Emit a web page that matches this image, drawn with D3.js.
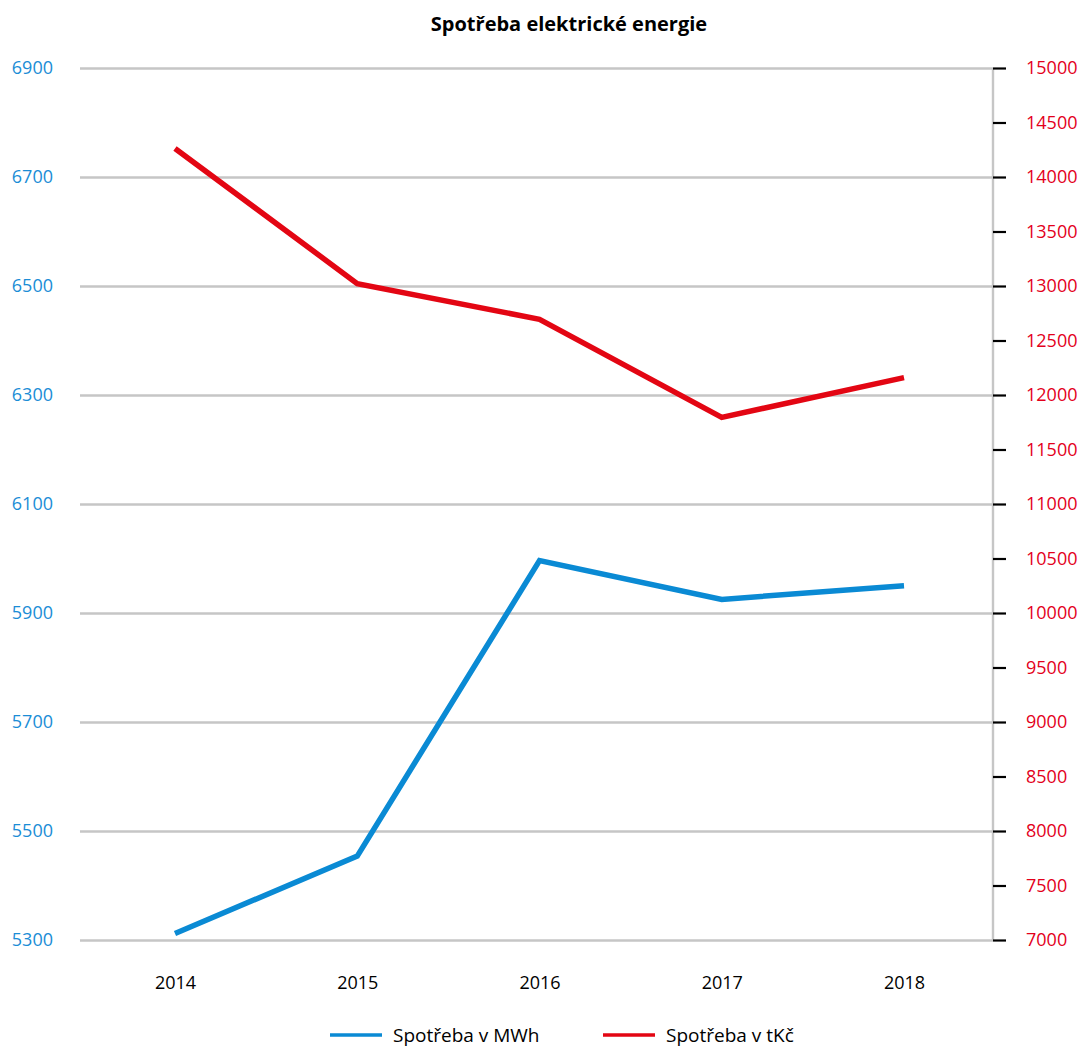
<!DOCTYPE html>
<html><head><meta charset="utf-8">
<script src="https://cdn.jsdelivr.net/npm/d3@7"></script>
<style>
html,body{margin:0;padding:0;background:#fff;}
text{font-family:"Open Sans",sans-serif;}
</style></head>
<body><svg id="c" width="1083" height="1046"></svg>
<script>
const title = "Spotřeba elektrické energie";
const years = ["2014","2015","2016","2017","2018"];
const mwh = [5312, 5454, 5996, 5925, 5950];
const tkc = [14262, 13022, 12694, 11795, 12159];
const leftTicks = [5300,5500,5700,5900,6100,6300,6500,6700,6900];
const rightTicks = [7000,7500,8000,8500,9000,9500,10000,10500,11000,11500,12000,12500,13000,13500,14000,14500,15000];
const seriesNames = ["Spotřeba v MWh","Spotřeba v tKč"];
const colors = ["#0a8ad4","#e30613"];
const labelColors = ["#1b8dd6","#e3001b"];

const svg = d3.select("#c");
const plotL = 80, plotR = 993, plotT = 68, plotB = 940;

const x = d3.scalePoint().domain(years).range([175, 904]);
const yL = d3.scaleLinear().domain([5300,6900]).range([plotB, plotT]);
const yR = d3.scaleLinear().domain([7000,15000]).range([plotB, plotT]);

// gridlines + left labels
const gl = svg.append("g").attr("transform",`translate(${plotL},0)`)
  .call(d3.axisLeft(yL).tickValues(leftTicks).tickSize(-(plotR-plotL)).tickPadding(27).tickFormat(d3.format("d")));
gl.select(".domain").remove();
gl.selectAll(".tick line").attr("stroke","#c6c6c6").attr("stroke-width",2.4);
gl.selectAll(".tick text").attr("fill",labelColors[0]).style("font-size","18px");

// right axis
const gr = svg.append("g").attr("transform",`translate(${plotR},0)`)
  .call(d3.axisRight(yR).tickValues(rightTicks).tickSize(13).tickPadding(20).tickFormat(d3.format("d")));
gr.select(".domain").attr("stroke","#c6c6c6").attr("stroke-width",2.4).attr("d",`M0,${plotT}V${plotB}`);
gr.selectAll(".tick line").attr("stroke","#000").attr("stroke-width",2.2);
gr.selectAll(".tick text").attr("fill",labelColors[1]).style("font-size","18px");

// x labels
const gx = svg.append("g").attr("transform",`translate(0,${plotB})`)
  .call(d3.axisBottom(x).tickSize(0).tickPadding(36));
gx.select(".domain").remove();
gx.selectAll(".tick text").attr("fill","#000").style("font-size","18px");

// lines
const lineL = d3.line().x((d,i)=>x(years[i])).y(d=>yL(d));
const lineR = d3.line().x((d,i)=>x(years[i])).y(d=>yR(d));
svg.append("path").datum(mwh).attr("d",lineL).attr("fill","none").attr("stroke",colors[0]).attr("stroke-width",5.5).attr("stroke-linejoin","miter");
svg.append("path").datum(tkc).attr("d",lineR).attr("fill","none").attr("stroke",colors[1]).attr("stroke-width",5.5).attr("stroke-linejoin","miter");

// title
svg.append("text").attr("x",569).attr("y",31).attr("text-anchor","middle")
  .style("font-size","20px").style("font-weight","bold").attr("fill","#000").text(title);

// legend
const legX = [330, 603];
seriesNames.forEach((n,i)=>{
  const g = svg.append("g").attr("transform",`translate(${legX[i]},1035)`);
  g.append("line").attr("x1",0).attr("x2",52).attr("y1",0).attr("y2",0).attr("stroke",colors[i]).attr("stroke-width",3.5);
  g.append("text").attr("x",63).attr("y",6.5).style("font-size","19px").attr("fill","#000").text(n);
});
</script></body></html>
